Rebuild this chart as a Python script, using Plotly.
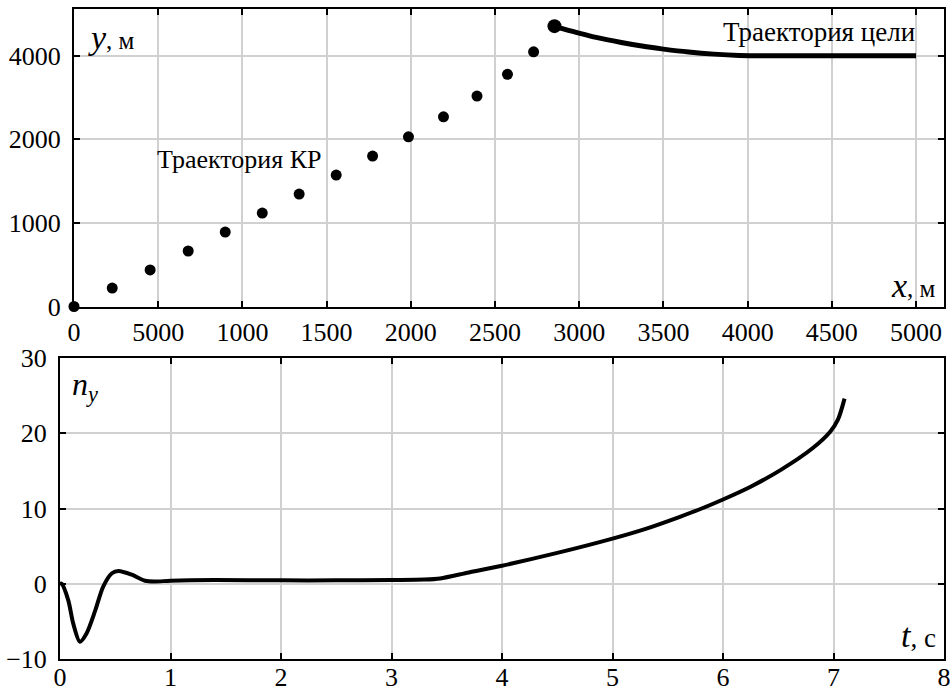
import plotly.graph_objects as go

# ---- data: top panel (trajectories) ----
kr_x = [0, 227, 452, 678, 898, 1118, 1337, 1557, 1773, 1986, 2194, 2393, 2574, 2729]
kr_y = [0, 221, 437, 664, 891, 1118, 1346, 1573, 1800, 2031, 2270, 2518, 2778, 3048]
hit_x = [2853]
hit_y = [3355]
tgt_x = [2853, 2900, 3000, 3100, 3250, 3400, 3500, 3650, 3800, 3950, 4200, 4500, 5000]
tgt_y = [3355, 3325, 3271, 3220, 3160, 3108, 3080, 3045, 3020, 3005, 3000, 3000, 3000]
top_xticks = [0, 500, 1000, 1500, 2000, 2500, 3000, 3500, 4000, 4500, 5000]
top_xticktext = ["0", "5000", "1000", "1500", "2000", "2500", "3000", "3500", "4000", "4500", "5000"]
top_yticks = [0, 1000, 2000, 3000]
top_yticktext = ["0", "1000", "2000", "4000"]

# ---- data: bottom panel (load factor) ----
t_vals = [0, 0.015, 0.075, 0.12, 0.18, 0.24, 0.32, 0.39, 0.47, 0.53, 0.65, 0.77, 0.86, 1.0,
          1.4, 2.0, 2.5, 3.0, 3.3, 3.44, 3.7, 4.0, 4.5, 5.0, 5.3, 5.61, 5.79, 6.0, 6.25,
          6.52, 6.81, 6.97, 7.04, 7.1]
n_vals = [0, 0, -2.2, -5.3, -7.7, -6.6, -3.5, -0.4, 1.4, 1.7, 1.2, 0.4, 0.3, 0.4,
          0.5, 0.45, 0.45, 0.5, 0.55, 0.7, 1.5, 2.4, 4.1, 6.0, 7.3, 8.9, 9.9, 11.2, 12.9,
          15.1, 18.0, 20.2, 21.8, 24.6]
bot_xticks = [0, 1, 2, 3, 4, 5, 6, 7, 8]
bot_yticks = [-10, 0, 10, 20, 30]
bot_yticktext = ["\u221210", "0", "10", "20", "30"]

W, H = 952, 687
FONT = "Liberation Serif"
FS = 26

def px(xp):
    return xp / W

def py(yp):
    return 1 - yp / H

fig = go.Figure()

fig.add_trace(go.Scatter(x=tgt_x, y=tgt_y, mode="lines",
                         line=dict(color="black", width=5, shape="spline"),
                         xaxis="x", yaxis="y", showlegend=False, cliponaxis=False))
fig.add_trace(go.Scatter(x=kr_x, y=kr_y, mode="markers",
                         marker=dict(color="black", size=11),
                         xaxis="x", yaxis="y", showlegend=False, cliponaxis=False))
fig.add_trace(go.Scatter(x=hit_x, y=hit_y, mode="markers",
                         marker=dict(color="black", size=14),
                         xaxis="x", yaxis="y", showlegend=False, cliponaxis=False))
fig.add_trace(go.Scatter(x=t_vals, y=n_vals, mode="lines",
                         line=dict(color="black", width=4, shape="spline", smoothing=0.8),
                         xaxis="x2", yaxis="y2", showlegend=False, cliponaxis=False))

axis_common = dict(
    showline=True, linecolor="black", linewidth=2, mirror="ticks",
    ticks="inside", ticklen=6, tickwidth=2, tickcolor="black",
    showgrid=True, gridcolor="#d0d0d0", gridwidth=1.5,
    zeroline=False, automargin=False,
    tickfont=dict(family=FONT, size=FS, color="black"),
)

fig.update_layout(
    template="none",
    width=W, height=H,
    margin=dict(l=0, r=0, t=0, b=0, pad=0),
    paper_bgcolor="white", plot_bgcolor="white",
    font=dict(family=FONT, size=FS, color="black"),
    xaxis=dict(domain=[px(74), px(944)], range=[0, 5166], anchor="y",
               tickmode="array", tickvals=top_xticks, ticktext=top_xticktext,
               ticklabelstandoff=1, **axis_common),
    yaxis=dict(domain=[py(306.5), py(9)], range=[0, 3560], anchor="x",
               tickmode="array", tickvals=top_yticks, ticktext=top_yticktext,
               ticklabelstandoff=6, **axis_common),
    xaxis2=dict(domain=[px(60), px(944)], range=[0, 8], anchor="y2",
                tickmode="array", tickvals=bot_xticks,
                ticklabelstandoff=-6, **axis_common),
    yaxis2=dict(domain=[py(659), py(358)], range=[-10, 30], anchor="x2",
                tickmode="array", tickvals=bot_yticks, ticktext=bot_yticktext,
                ticklabelstandoff=6, **axis_common),
)

ann = [
    dict(text="<i>y</i><span style='font-size:25px'>, м</span>", x=px(86), y=py(37),
         xanchor="left", yanchor="middle", font=dict(size=34)),
    dict(text="<i>x</i><span style='font-size:25px'>, м</span>", x=px(938), y=py(285),
         xanchor="right", yanchor="middle", font=dict(size=34)),
    dict(text="Траектория КР", x=px(155), y=py(159), xanchor="left", yanchor="middle",
         font=dict(size=26)),
    dict(text="Траектория цели", x=px(917), y=py(32), xanchor="right", yanchor="middle",
         font=dict(size=27)),
    dict(text="<i>n<sub>y</sub></i>", x=px(70), y=py(386), xanchor="left", yanchor="middle",
         font=dict(size=32)),
    dict(text="<i>t</i><span style='font-size:27px'>, с</span>", x=px(938), y=py(635),
         xanchor="right", yanchor="middle", font=dict(size=34)),
]
for a in ann:
    a.update(xref="paper", yref="paper", showarrow=False)
    a["font"] = dict(family=FONT, color="black", size=a["font"]["size"])
fig.update_layout(annotations=ann)

fig.write_html("out.html", config={"displayModeBar": False},
               post_script="document.body.style.margin='0';document.body.style.padding='0';")
